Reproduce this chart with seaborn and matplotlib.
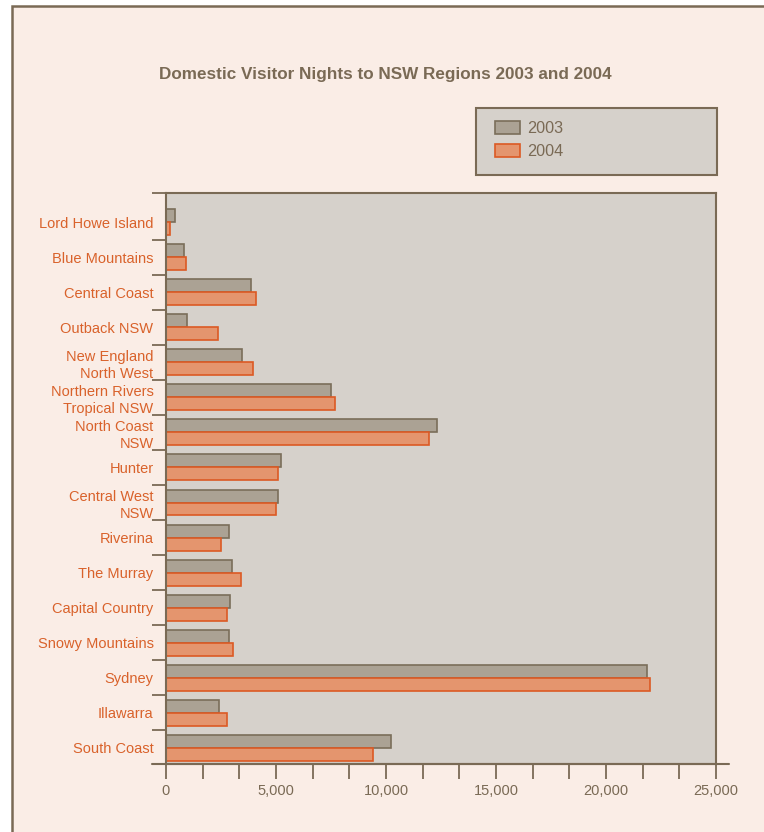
import matplotlib
matplotlib.use("Agg")
import matplotlib.pyplot as plt
import seaborn as sns
import pandas as pd
import numpy as np
from matplotlib.patches import Rectangle, Patch
from matplotlib.lines import Line2D
from matplotlib.ticker import FixedLocator, MultipleLocator

regions = ["Lord Howe Island", "Blue Mountains", "Central Coast", "Outback NSW",
           "New England\nNorth West", "Northern Rivers\nTropical NSW", "North Coast\nNSW",
           "Hunter", "Central West\nNSW", "Riverina", "The Murray", "Capital Country",
           "Snowy Mountains", "Sydney", "Illawarra", "South Coast"]
nights_2003 = [420, 800, 3880, 940, 3440, 7480, 12330, 5240, 5090, 2880, 2990, 2890,
               2850, 21860, 2420, 10240]
nights_2004 = [200, 920, 4090, 2360, 3940, 7690, 11960, 5090, 5020, 2500, 3390, 2790,
               3040, 22010, 2760, 9390]
years = ["2003", "2004"]
x_major = [0, 5000, 10000, 15000, 20000, 25000]

BROWN = "#7A6A55"
ORANGE = "#D9622B"
PAPER = "#FAEDE6"
PLOT_BG = "#D6D1CB"
FILL = {"2003": "#ABA294", "2004": "#E4956E"}
EDGE = {"2003": "#7A6E5A", "2004": "#DC5A24"}

df = pd.DataFrame({
    "region": regions * 2,
    "nights": nights_2003 + nights_2004,
    "year": ["2003"] * len(regions) + ["2004"] * len(regions),
})

sns.set_theme(style="white")
plt.rcParams["font.family"] = ["Liberation Sans", "DejaVu Sans"]

W, H = 764, 832
fig = plt.figure(figsize=(W / 100, H / 100), dpi=100, facecolor="white")

# outer paper frame
fig.patches.append(Rectangle((12 / W, -0.1), 1.2, 1 - 6 / H + 0.1, transform=fig.transFigure,
                             facecolor=PAPER, edgecolor=BROWN, lw=1.8, zorder=-10))

ax = fig.add_axes([166 / W, 1 - 764 / H, 550 / W, 571 / H])
ax.set_zorder(1)
ax.set_facecolor(PLOT_BG)

sns.barplot(data=df, y="region", x="nights", hue="year", orient="h",
            palette=FILL, width=0.74, ax=ax, legend=False, saturation=1,
            linewidth=1.2, gap=0)
for cont, yr in zip(ax.containers, years):
    for bar in cont:
        bar.set_edgecolor(EDGE[yr])
        bar.set_linewidth(1.2)

Y_TOP, Y_BOT = -0.83, 15.46
ax.set_xlim(0, 25000)
ax.set_ylim(Y_BOT, Y_TOP)
ax.set_xlabel("")
ax.set_ylabel("")

for s in ax.spines.values():
    s.set_color(BROWN)
    s.set_linewidth(1.5)

# x ticks
ax.xaxis.set_major_locator(FixedLocator(x_major))
ax.set_xticklabels([f"{v:,}" for v in x_major])
ax.xaxis.set_minor_locator(MultipleLocator(25000 / 15))
ax.tick_params(axis="x", which="both", direction="out", length=10.5, width=1.3,
               color=BROWN, labelcolor=BROWN, labelsize=10.5, pad=4, bottom=True)

# y ticks: labels at categories, tick marks at boundaries
ax.set_yticks(range(len(regions)))
ax.set_yticklabels(regions, linespacing=1.3)
ax.yaxis.set_minor_locator(FixedLocator([Y_TOP] + [i + 0.5 for i in range(len(regions) - 1)]))
ax.tick_params(axis="y", which="major", length=0, pad=9, labelcolor=ORANGE, labelsize=10.5, left=False)
ax.tick_params(axis="y", which="minor", direction="out", length=10, width=1.3, color=BROWN, left=True)

# extended x axis line
ax.add_line(Line2D([-14 / 550, 1 + 13 / 550], [0, 0], transform=ax.transAxes,
                   color=BROWN, lw=1.5, clip_on=False))

fig.text(385 / W, 1 - 75 / H, "Domestic Visitor Nights to NSW Regions 2003 and 2004",
         ha="center", va="center", fontsize=12.3, fontweight="bold", color=BROWN)

# legend box
fig.patches.append(Rectangle((476 / W, 1 - 175 / H), 241 / W, 67 / H, transform=fig.transFigure,
                             facecolor=PLOT_BG, edgecolor=BROWN, lw=1.5, zorder=1))
handles = [Patch(facecolor=FILL[y], edgecolor=EDGE[y], lw=1.2, label=y) for y in years]
leg = fig.legend(handles=handles, loc="upper left", bbox_to_anchor=(495 / W, 1 - 121 / H),
                 frameon=False, fontsize=11.7, handlelength=1.55, handleheight=0.8,
                 handletextpad=0.45, labelspacing=0.5, borderpad=0, borderaxespad=0)
leg.set_zorder(2)
for t in leg.get_texts():
    t.set_color(BROWN)

fig.savefig("out.png", dpi=100, facecolor="white")
